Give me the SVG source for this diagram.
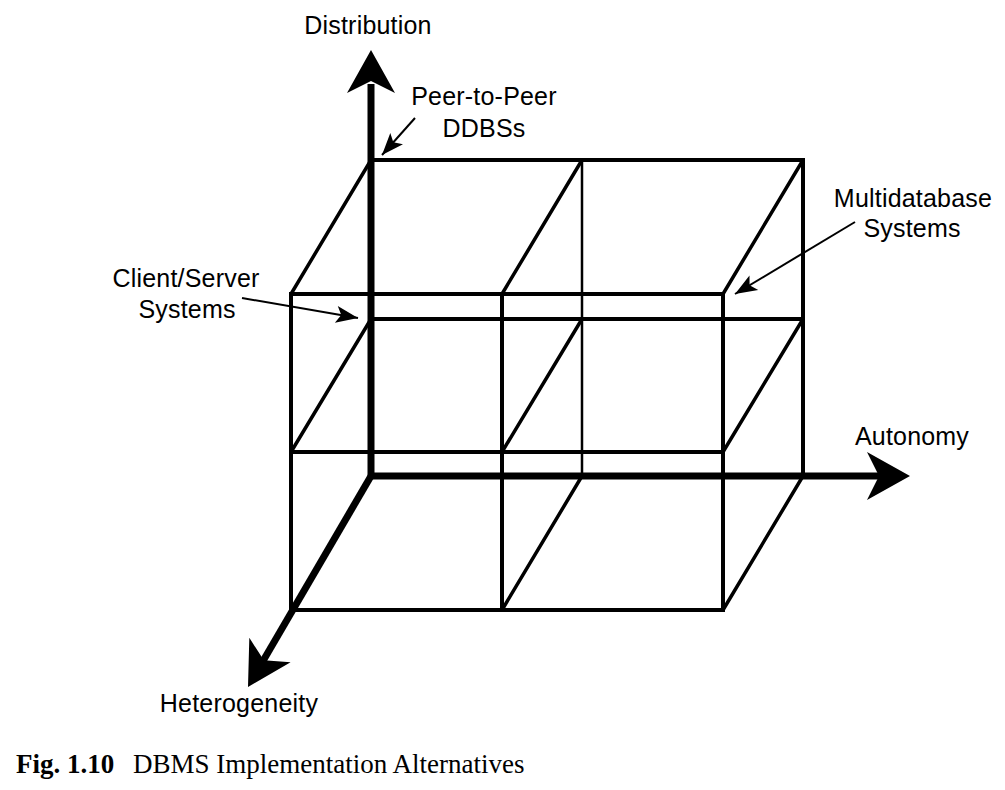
<svg xmlns="http://www.w3.org/2000/svg" width="1005" height="790" viewBox="0 0 1005 790">
<style>
.lbl{font-family:"Liberation Sans",Arial,sans-serif;font-size:25px;fill:#000;text-anchor:middle;letter-spacing:0.2px}
.cap{font-family:"Liberation Serif","Times New Roman",serif;font-size:27px;fill:#000}
.g{stroke:#000;fill:none;stroke-width:4;stroke-linecap:square}
.d{stroke:#000;fill:none;stroke-width:3.5}
.thin{stroke:#000;fill:none;stroke-width:2.5}
.axis{stroke:#000;fill:none;stroke-width:7;stroke-linejoin:miter}
.ptr{stroke:#000;fill:none;stroke-width:2}
</style>
<defs>
<path id="ah" d="M0,0 L-43,-24 L-31,0 L-43,24 Z" fill="#000"/>
<marker id="pm" markerUnits="userSpaceOnUse" markerWidth="30" markerHeight="24" viewBox="-2 -12 30 24" refX="22" refY="0" orient="auto">
<path d="M0,-8.5 L22,0 L0,8.5 L5,0 Z" fill="#000"/>
</marker>
</defs>
<rect width="1005" height="790" fill="#fff"/>

<g id="cube-back">
<path class="g" d="M371,160 L803,160 M371,319 L803,319 M803,160 L803,476"/>
<path class="thin" d="M582,160 L582,476"/>
</g>
<g id="cube-diagonals">
<path class="d" d="M291,294 L371,160 M291,452 L371,319 M502,294 L582,160 M502,452 L582,319 M502,610 L582,476 M723,294 L803,160 M723,452 L803,319 M723,610 L803,476"/>
</g>
<g id="cube-front">
<path class="g" d="M291,294 L723,294 M291,452 L723,452 M291,610 L723,610 M291,294 L291,610 M502,294 L502,610 M723,294 L723,610"/>
</g>

<g id="axes">
<path class="axis" d="M371,84 L371,476 L882,476"/>
<path class="axis" d="M371,476 L256,673"/>
<use href="#ah" transform="translate(371,50) rotate(-90)"/>
<use href="#ah" transform="translate(910,476)"/>
<use href="#ah" transform="translate(248,687) rotate(120.7)"/>
</g>

<g id="connectors">
<line class="ptr" x1="415" y1="118" x2="382" y2="155" marker-end="url(#pm)"/>
<line class="ptr" x1="242" y1="298" x2="358" y2="318" marker-end="url(#pm)"/>
<line class="ptr" x1="855" y1="222" x2="735" y2="294" marker-end="url(#pm)"/>
</g>

<g id="label-distribution"><text class="lbl" x="368" y="34">Distribution</text></g>
<g id="label-p2p"><text class="lbl" x="484" y="105">Peer-to-Peer</text><text class="lbl" x="484" y="137">DDBSs</text></g>
<g id="label-cs"><text class="lbl" x="186" y="287">Client/Server</text><text class="lbl" x="187" y="318">Systems</text></g>
<g id="label-mdb"><text class="lbl" x="913" y="207">Multidatabase</text><text class="lbl" x="912" y="237">Systems</text></g>
<g id="label-autonomy"><text class="lbl" x="912" y="445">Autonomy</text></g>
<g id="label-heterogeneity"><text class="lbl" x="239" y="712">Heterogeneity</text></g>

<g id="caption">
<text class="cap" x="16" y="773"><tspan font-weight="bold">Fig. 1.10</tspan><tspan x="133">DBMS Implementation Alternatives</tspan></text>
</g>
</svg>
